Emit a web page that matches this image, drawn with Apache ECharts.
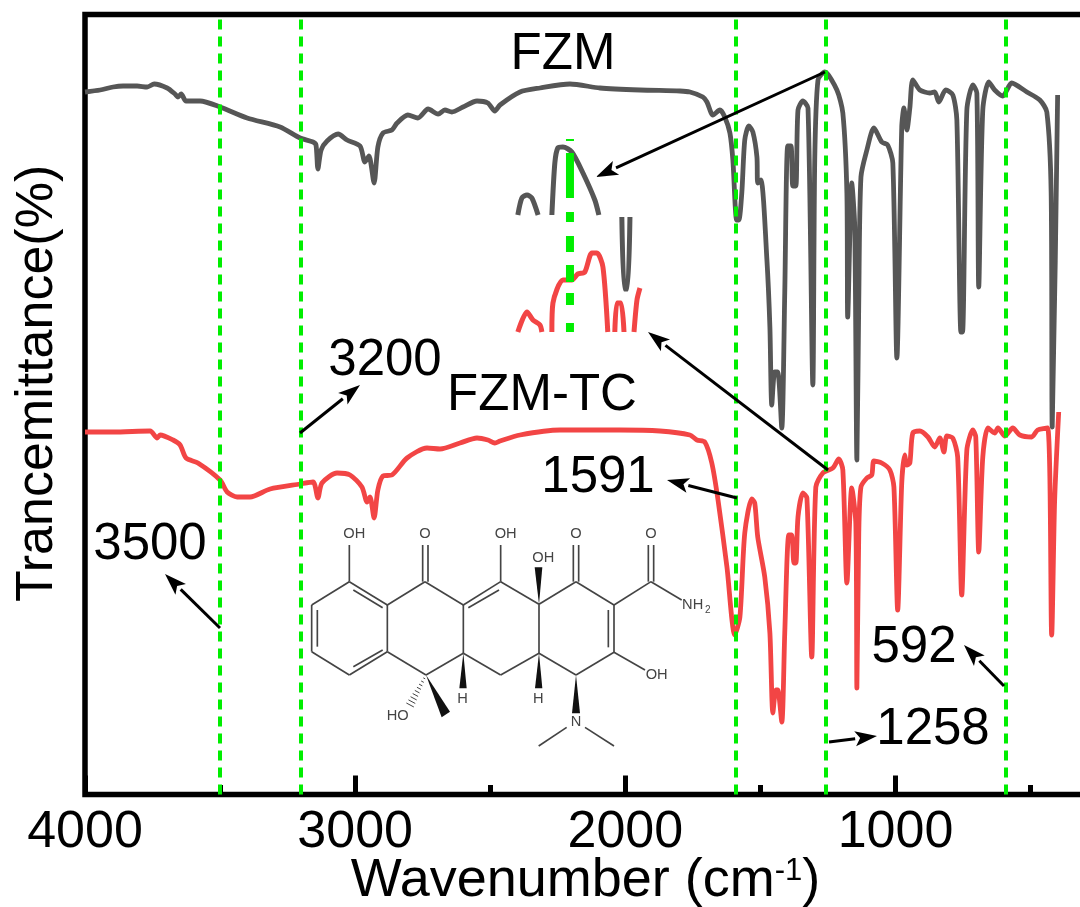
<!DOCTYPE html>
<html><head><meta charset="utf-8">
<script src="https://cdn.jsdelivr.net/npm/echarts@6/dist/echarts.min.js"></script>
<style>html,body{margin:0;padding:0;background:#fff}#c{width:1080px;height:907px}</style></head>
<body><div id="c"></div>
<script>
// Spectra: [wavenumber, transmittance]
const fzm = [[4000,70.1],[3944,70.3],[3896,70.6],[3859,70.7],[3807,70.7],[3770,70.6],[3744,70.9],[3696,70.5],[3667,69.9],[3656,69.6],[3644,69.9],[3626,69.2],[3574,69.2],[3500,68.6],[3400,67.5],[3278,66.6],[3204,65.5],[3156,65.1],[3145,64.8],[3138,62.4],[3126,64.3],[3104,65.2],[3063,65.9],[3030,65.3],[2982,64.7],[2964,63.1],[2949,63.7],[2930,61.0],[2916,64.6],[2897,66.0],[2864,66.3],[2845,67.0],[2805,67.8],[2768,67.5],[2730,68.4],[2693,67.9],[2668,68.3],[2642,68.1],[2601,68.6],[2549,69.2],[2509,69.0],[2483,68.2],[2464,68.8],[2390,70.1],[2316,70.5],[2205,70.9],[2094,70.5],[1946,70.3],[1798,70.2],[1761,70.1],[1713,69.6],[1698,69.1],[1676,67.8],[1650,68.3],[1632,67.6],[1613,66.0],[1602,63.3],[1588,57.3],[1580,57.3],[1569,60.0],[1558,65.3],[1543,66.7],[1528,66.1],[1513,63.6],[1510,61.0],[1498,61.3],[1476,53.3],[1465,46.6],[1458,38.8],[1447,42.1],[1436,42.1],[1421,36.5],[1410,50.0],[1399,64.7],[1387,64.7],[1380,60.7],[1369,60.7],[1361,68.3],[1343,69.2],[1324,68.5],[1306,40.8],[1299,63.3],[1287,71.3],[1262,72.1],[1217,70.3],[1195,68.0],[1180,60.0],[1177,47.6],[1162,61.0],[1151,56.6],[1143,33.3],[1136,49.3],[1128,61.6],[1106,64.3],[1080,66.5],[1051,65.1],[1029,64.8],[1010,63.0],[995,43.5],[977,66.6],[969,68.5],[958,66.3],[947,68.5],[936,71.3],[910,70.3],[873,70.0],[855,70.1],[840,69.1],[814,70.3],[788,69.8],[773,67.3],[758,46.1],[752,46.1],[736,68.3],[714,70.8],[699,70.0],[692,50.6],[677,68.3],[655,71.1],[633,70.3],[603,69.7],[570,71.0],[514,70.1],[466,69.3],[440,68.1],[424,60.0],[420,36.6],[400,69.8]];
const fzmTc = [[4000,36.1],[3896,36.1],[3759,36.2],[3733,35.5],[3722,35.8],[3674,35.3],[3648,34.8],[3626,33.5],[3582,33.0],[3500,31.3],[3474,30.1],[3437,29.6],[3389,29.6],[3315,30.4],[3204,30.9],[3156,31.1],[3138,29.5],[3123,31.0],[3067,32.0],[3019,31.8],[2975,30.6],[2956,29.1],[2945,29.6],[2930,27.5],[2916,30.3],[2897,31.7],[2864,31.8],[2808,33.5],[2734,34.5],[2686,34.4],[2612,35.0],[2549,35.5],[2509,35.3],[2483,35.0],[2464,35.2],[2390,35.8],[2242,36.3],[2020,36.3],[1872,36.2],[1761,35.8],[1735,35.3],[1706,35.1],[1680,33.0],[1657,29.3],[1624,22.6],[1595,15.8],[1576,17.6],[1558,26.0],[1532,29.4],[1521,29.0],[1510,25.6],[1484,21.6],[1465,16.0],[1454,8.0],[1443,10.3],[1436,10.3],[1421,7.1],[1410,16.0],[1395,25.8],[1384,25.8],[1376,23.0],[1369,23.0],[1361,27.6],[1343,30.0],[1328,29.5],[1310,13.6],[1295,30.6],[1269,32.0],[1232,32.5],[1210,33.4],[1195,32.3],[1180,21.0],[1162,30.5],[1147,27.0],[1143,10.5],[1136,26.0],[1128,30.6],[1106,31.5],[1088,31.8],[1080,33.2],[1051,33.0],[1021,32.3],[1006,30.6],[992,18.3],[977,31.0],[966,33.8],[958,32.8],[947,33.0],[936,36.0],[910,36.2],[880,35.6],[855,34.6],[836,35.5],[821,34.1],[810,35.7],[788,35.5],[770,33.6],[755,19.8],[736,34.3],[714,36.3],[703,35.6],[692,24.1],[677,33.6],[658,36.5],[633,36.0],[621,36.5],[595,35.7],[566,36.5],[540,35.8],[496,35.6],[474,36.3],[437,36.5],[422,15.8],[411,29.3],[396,38.1]];
// Inset close-up fragments around 2200 on the same axes
const fzmInset = [[2398,57.8],[2383,59.5],[2364,59.8],[2346,59.5],[2323,57.8],null,[2272,57.8],[2261,63.0],[2250,64.5],[2231,64.6],[2198,64.1],[2157,62.0],[2113,59.3],[2098,57.8],null,[2013,57.6],[2004,50.4],[1992,50.4],[1983,57.6]];
const fzmTcInset = [[2398,46.1],[2364,48.1],[2342,47.3],[2316,46.8],[2309,46.1],null,[2272,46.1],[2268,49.0],[2231,51.3],[2198,51.3],[2176,51.9],[2150,52.1],[2124,54.0],[2105,54.0],[2083,52.6],[2065,46.1],null,[2039,46.1],[2031,49.0],[2016,49.0],[2005,46.1],null,[1968,46.1],[1957,49.3],[1946,50.5]];
const insetGuide = [[2205,65.4],[2205,65.2],null,[2205,64],[2205,59.5],null,[2205,58.1],[2205,57.1],null,[2205,55.7],[2205,54.1],null,[2205,52.8],[2205,51.1],null,[2205,50],[2205,48.8],null,[2205,47],[2205,46.1]];
const guides = [3500,3200,1591,1258,592];
const majorTicks = [4000,3000,2000,1000];
const minorTicks = [3500,2500,1500,500];
const peakLabels = [['3200',385,361],['3500',150,545],['1591',598,478],['592',914,648],['1258',933,730]];
const seriesLabels = [['FZM',563,55],['FZM-TC',542,396]];
const arrows = [[300,433,360,385],[220,628,165,574],[737,498,667,480],[1004,686,964,645],[829,742,877,736],[825,72,596,177],[828,470,648,332]];

const FONT = '"Liberation Sans",Arial,sans-serif', INK='#000', MOL='#444';
function arrow(a){
  const [x1,y1,x2,y2]=a, L=Math.hypot(x2-x1,y2-y1), ux=(x2-x1)/L, uy=(y2-y1)/L, hl=22, hw=7.5;
  const bx=x2-ux*hl, by=y2-uy*hl;
  return [
    {type:'line',z:20,shape:{x1,y1,x2:bx,y2:by},style:{stroke:INK,lineWidth:3}},
    {type:'polygon',z:20,shape:{points:[[x2,y2],[bx-uy*hw,by+ux*hw],[bx+ux*5,by+uy*5],[bx+uy*hw,by-ux*hw]]},style:{fill:INK}}
  ];
}
function txt(t,x,y,size){return {type:'text',z:21,x,y,style:{text:t,x:0,y:0,fill:INK,font:size+'px '+FONT,textAlign:'center',textVerticalAlign:'middle'}};}
// tetracycline sketch, drawn inside a group scaled 1/3
const bonds=[[35,285,35,425],[35,425,148,495],[148,495,262,425],[262,425,262,285],[262,285,148,215],[148,215,35,285],[52,300,52,410],[160,470,248,420],[160,240,248,293],[148,215,148,105],[262,285,375,215],[368,215,368,105],[384,215,384,105],[375,215,490,285],[490,285,490,430],[490,285,602,215],[505,293,597,240],[602,215,602,105],[602,215,717,283],[717,283,828,215],[820,215,820,105],[836,215,836,105],[828,215,942,285],[942,285,942,427],[925,300,925,412],[942,285,1053,215],[1045,215,1045,105],[1061,215,1061,105],[1053,215,1145,270],[942,427,1035,480],[942,427,828,495],[828,495,717,430],[717,283,717,430],[717,430,602,495],[602,495,490,430],[490,430,378,495],[378,495,262,425],[800,652,716,708],[855,652,942,708]];
const wedges=[[[717,283],[704,172],[727,172]],[[490,430],[478,535],[500,535]],[[717,430],[705,535],[727,535]],[[828,495],[816,610],[840,610]],[[378,495],[425,622],[450,605]]];
const atoms=[['OH',163,72],['O',375,72],['OH',617,72],['OH',730,143],['O',828,72],['O',1053,72],['NH',1178,285],['OH',1070,495],['H',488,568],['H',715,568],['N',828,637],['HO',293,617]];
const mol=[];
bonds.forEach(b=>mol.push({type:'line',shape:{x1:b[0],y1:b[1],x2:b[2],y2:b[3]},style:{stroke:MOL,lineWidth:5}}));
wedges.forEach(p=>mol.push({type:'polygon',shape:{points:p},style:{fill:'#111'}}));
for(let i=1;i<=9;i++){const t=i/10,cx=378-53*t,cy=495+100*t,d=2+12*t;mol.push({type:'line',shape:{x1:cx-d*.88,y1:cy-d*.47,x2:cx+d*.88,y2:cy+d*.47},style:{stroke:MOL,lineWidth:3}});}
atoms.forEach(a=>mol.push({type:'text',x:a[1],y:a[2],style:{text:a[0],x:0,y:0,fill:MOL,font:'44px '+FONT,textAlign:'center',textVerticalAlign:'middle'}}));
mol.push({type:'text',x:1223,y:300,style:{text:'2',x:0,y:0,fill:MOL,font:'30px '+FONT,textAlign:'center',textVerticalAlign:'middle'}});

const graphics=[{type:'group',x:300,y:510,scaleX:1/3,scaleY:1/3,z:15,children:mol}];
arrows.forEach(a=>graphics.push(...arrow(a)));
peakLabels.concat(seriesLabels).forEach(l=>graphics.push(txt(l[0],l[1],l[2],51)));

const baseX={type:'value',inverse:true,min:295,max:4000,splitLine:{show:false},axisLine:{show:false},position:'bottom'};
const SMOOTH=0.25;
const chart=echarts.init(document.getElementById('c'),null,{renderer:'canvas'});
chart.setOption({
  animation:false,backgroundColor:'#fff',
  grid:{show:true,outerBoundsMode:'none',containLabel:false,left:85,top:14.5,width:1001,height:779.9,borderColor:'#000',borderWidth:5.5,backgroundColor:'transparent'},
  xAxis:[
    Object.assign({},baseX,{
      name:'Wavenumber (cm{sup|-1})',nameLocation:'middle',nameGap:60,nameMoveOverlap:false,
      nameTextStyle:{fontFamily:FONT,fontSize:54,color:INK,rich:{sup:{fontFamily:FONT,fontSize:31,color:INK,padding:[0,0,20,0]}}},
      axisTick:{show:true,inside:true,length:17.4,customValues:majorTicks,lineStyle:{color:'#000',width:5}},
      axisLabel:{show:true,margin:12,fontFamily:FONT,fontSize:52,color:INK,customValues:majorTicks,hideOverlap:false,showMinLabel:true,showMaxLabel:true,formatter:v=>String(v)}
    }),
    Object.assign({},baseX,{axisTick:{show:true,inside:true,length:9.4,customValues:minorTicks,lineStyle:{color:'#000',width:5}},axisLabel:{show:false}})
  ],
  yAxis:{type:'value',min:-0.14,max:77.85,splitLine:{show:false},axisLine:{show:false},axisTick:{show:false},axisLabel:{show:false},
    name:'Trancemittance(%)',nameLocation:'middle',nameGap:21,nameRotate:90,
    nameTextStyle:{fontFamily:FONT,fontSize:52,color:INK,padding:[0,0,0,42]}},
  series:[
    {name:'FZM',type:'line',data:fzm,showSymbol:false,smooth:SMOOTH,z:3,lineStyle:{color:'#565656',width:4.8,join:'round'}},
    {name:'FZM-TC',type:'line',data:fzmTc,showSymbol:false,smooth:SMOOTH,z:4,lineStyle:{color:'#f24545',width:4.8,join:'round'},
      markLine:{silent:true,symbol:'none',label:{show:false},animation:false,lineStyle:{color:'#00ee00',width:4,type:[10,7],opacity:1},data:guides.map(v=>({xAxis:v}))}},
    {name:'FZM inset',type:'line',data:fzmInset,connectNulls:false,showSymbol:false,smooth:SMOOTH,z:3,lineStyle:{color:'#565656',width:5}},
    {name:'FZM-TC inset',type:'line',data:fzmTcInset,connectNulls:false,showSymbol:false,smooth:SMOOTH,z:4,lineStyle:{color:'#f24545',width:5}},
    {name:'inset guide',type:'line',data:insetGuide,connectNulls:false,showSymbol:false,z:5,lineStyle:{color:'#00ee00',width:8,cap:'butt'}}
  ],
  graphic:graphics
});
</script></body></html>
